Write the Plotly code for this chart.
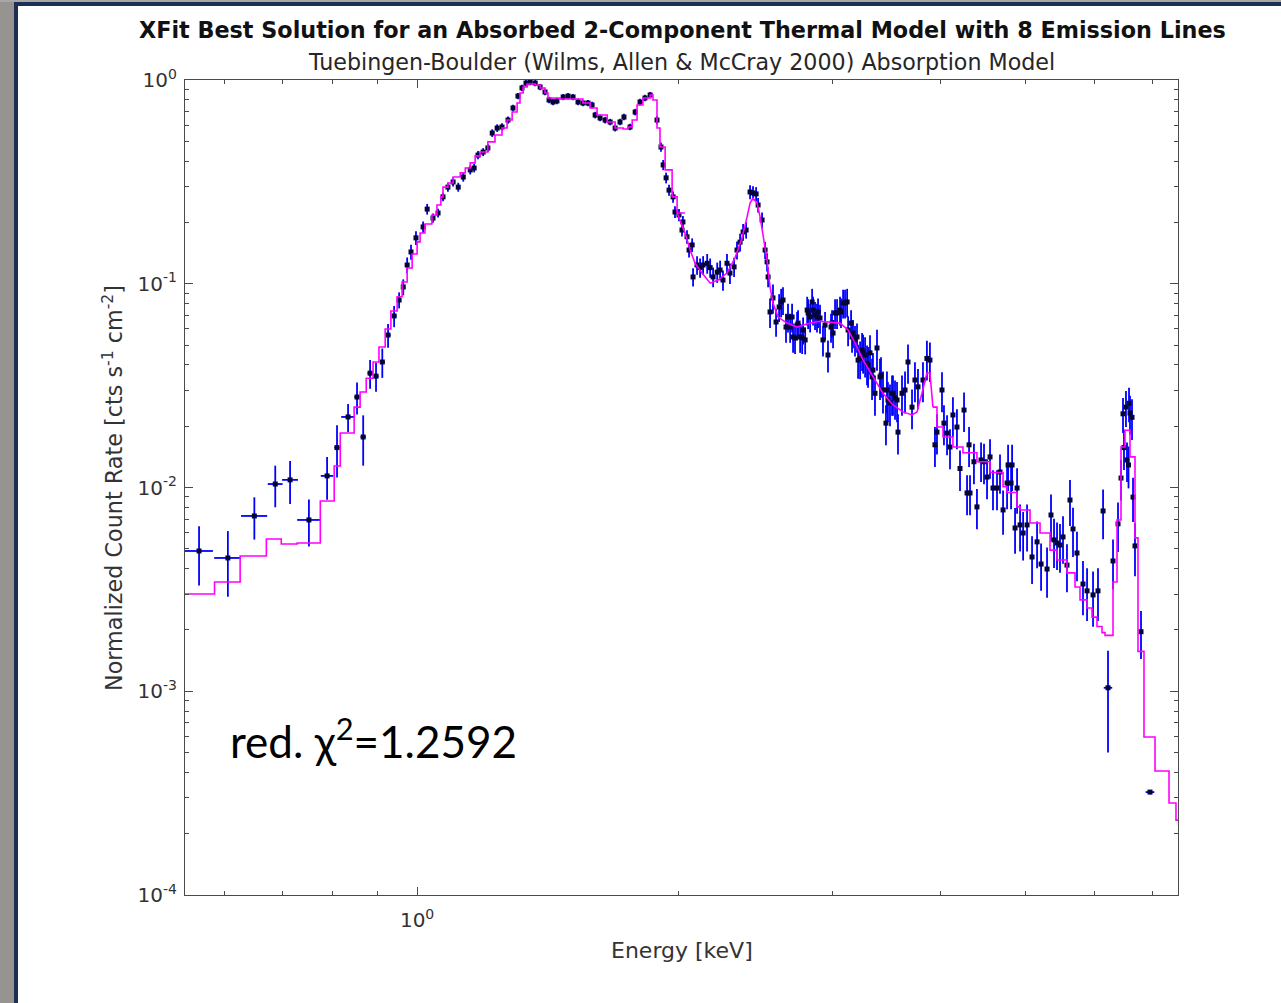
import plotly.graph_objects as go

# ---------------- data ----------------
# sparse, binned points with energy error bars
binned_energy = [0.5615, 0.606, 0.650, 0.687, 0.7145, 0.751, 0.788, 0.809, 0.833, 0.853, 0.867,
                 0.883, 0.897, 0.912, 0.926, 0.941, 6.226, 6.794, 6.958]
binned_rate = [0.00488, 0.00451, 0.00725, 0.0104, 0.0109, 0.00693, 0.0114, 0.0157, 0.0222, 0.0278, 0.0177,
               0.0364, 0.0352, 0.0413, 0.0560, 0.0695, 0.00104, 0.00196, 0.000320]
binned_rate_err = [0.00158, 0.0016, 0.0017, 0.0024, 0.0026, 0.0018, 0.0027, 0.0045, 0.0035, 0.005, 0.0049,
                   0.0059, 0.0057, 0.0068, 0.0075, 0.0083, 0.00054, 0.00052, 0.000008]
binned_energy_err = [0.021, 0.0215, 0.0225, 0.0135, 0.015, 0.023, 0.013, 0.006, 0.015, 0.006, 0.006,
                     0.006, 0.006, 0.006, 0.006, 0.006, 0.07, 0.03, 0.08]

# soft band 0.95 - 2.55 keV
soft_energy = [0.9535, 0.964, 0.974, 0.984, 0.997, 1.016, 1.027, 1.043, 1.057, 1.071,
               1.085, 1.100, 1.115, 1.130, 1.151, 1.163, 1.175, 1.191, 1.206, 1.220,
               1.236, 1.252, 1.272, 1.289, 1.306, 1.320, 1.334, 1.349, 1.367, 1.385,
               1.403, 1.418, 1.433, 1.448, 1.472, 1.491, 1.511, 1.531, 1.551, 1.572,
               1.589, 1.602, 1.623, 1.645, 1.667, 1.689, 1.711, 1.729, 1.757, 1.781,
               1.804, 1.828, 1.853, 1.887, 1.907, 1.918, 1.933, 1.948, 1.969, 1.979,
               2.000, 2.016, 2.021, 2.043, 2.054, 2.071, 2.076, 2.098, 2.115, 2.132,
               2.155, 2.172, 2.189, 2.213, 2.230, 2.247, 2.271, 2.289, 2.314, 2.332,
               2.351, 2.370, 2.389, 2.414, 2.433, 2.453, 2.466, 2.492, 2.512, 2.525, 2.532]
soft_rate = [0.0832, 0.0964, 0.1236, 0.1432, 0.168, 0.190, 0.2325, 0.210, 0.2225, 0.267,
             0.298, 0.316, 0.298, 0.334, 0.362, 0.370, 0.428, 0.443, 0.464, 0.549,
             0.581, 0.588, 0.636, 0.729, 0.834, 0.914, 0.966, 0.977, 0.966, 0.924,
             0.873, 0.798, 0.780, 0.789, 0.825, 0.834, 0.825, 0.780, 0.771, 0.771,
             0.754, 0.673, 0.651, 0.636, 0.622, 0.581, 0.622, 0.658, 0.588, 0.696,
             0.780, 0.816, 0.844, 0.636, 0.469, 0.383, 0.331, 0.288, 0.267, 0.225,
             0.2175, 0.1835, 0.201, 0.170, 0.1464, 0.155, 0.108, 0.1236, 0.120, 0.1236,
             0.126, 0.120, 0.108, 0.114, 0.1168, 0.1043, 0.126, 0.1128, 0.121, 0.1464,
             0.160, 0.1795, 0.1835, 0.282, 0.279, 0.276, 0.2435, 0.2055, 0.1464, 0.128, 0.108]
soft_rate_err = [0.0075, 0.0087, 0.011, 0.012, 0.013, 0.012, 0.014, 0.011, 0.011, 0.013,
                 0.015, 0.016, 0.015, 0.017, 0.018, 0.018, 0.02, 0.02, 0.021, 0.024,
                 0.025, 0.025, 0.026, 0.028, 0.03, 0.033, 0.035, 0.035, 0.035, 0.033,
                 0.031, 0.029, 0.028, 0.028, 0.029, 0.029, 0.029, 0.028, 0.027, 0.027,
                 0.027, 0.025, 0.024, 0.024, 0.023, 0.022, 0.023, 0.024, 0.022, 0.026,
                 0.028, 0.03, 0.03, 0.03, 0.025, 0.022, 0.02, 0.018, 0.017, 0.015,
                 0.015, 0.013, 0.014, 0.013, 0.012, 0.012, 0.011, 0.013, 0.013, 0.013,
                 0.014, 0.013, 0.012, 0.013, 0.013, 0.012, 0.014, 0.013, 0.013, 0.015,
                 0.016, 0.017, 0.017, 0.022, 0.022, 0.022, 0.02, 0.018, 0.014, 0.013, 0.012]

# hard band 2.55 - 6.7 keV
hard_energy = [2.545, 2.565, 2.586, 2.607, 2.621, 2.634, 2.655, 2.669, 2.684, 2.698,
               2.705, 2.719, 2.734, 2.741, 2.756, 2.771, 2.778, 2.793, 2.808, 2.815,
               2.830, 2.845, 2.852, 2.867, 2.882, 2.890, 2.905, 2.928, 2.944, 2.967,
               2.991, 2.999, 3.007, 3.023, 3.039, 3.063, 3.071, 3.088, 3.104, 3.121,
               3.129, 3.154, 3.162, 3.170, 3.187, 3.204, 3.213, 3.230, 3.247, 3.256,
               3.273, 3.290, 3.299, 3.316, 3.334, 3.342, 3.360, 3.378, 3.405, 3.414,
               3.432, 3.459, 3.468, 3.477, 3.496, 3.515, 3.524, 3.543, 3.562, 3.571,
               3.609, 3.638, 3.667, 3.706, 3.735, 3.765, 3.815, 3.855, 3.886, 3.938,
               3.959, 4.012, 4.033, 4.066, 4.098, 4.130, 4.174, 4.208, 4.253, 4.287,
               4.310, 4.321, 4.366, 4.401, 4.449, 4.484, 4.520, 4.556, 4.592, 4.641,
               4.678, 4.716, 4.766, 4.779, 4.817, 4.830, 4.868, 4.894, 4.933, 4.973,
               5.025, 5.092, 5.160, 5.215, 5.298, 5.354, 5.397, 5.440, 5.483, 5.527,
               5.585, 5.630, 5.675, 5.735, 5.827, 5.890, 5.984, 6.063, 6.145, 6.309,
               6.393, 6.444, 6.478, 6.495, 6.529, 6.547, 6.573, 6.582, 6.599, 6.634,
               6.652, 6.687]
hard_rate = [0.0727, 0.0852, 0.0649, 0.0769, 0.0814, 0.0832, 0.0613, 0.0687, 0.0613, 0.0687,
             0.0548, 0.0542, 0.0627, 0.0641, 0.0548, 0.0542, 0.0593, 0.0530, 0.0743, 0.0719,
             0.0687, 0.0814, 0.0743, 0.0703, 0.0687, 0.0727, 0.0679, 0.0530, 0.0627, 0.0447,
             0.0613, 0.0641, 0.0573, 0.0719, 0.0719, 0.0743, 0.0727, 0.0805, 0.0805, 0.0814,
             0.0593, 0.0641, 0.0548, 0.0573, 0.0530, 0.0548, 0.0422, 0.0430, 0.0473, 0.0462,
             0.0447, 0.0408, 0.0399, 0.0458, 0.0349, 0.0377, 0.0290, 0.0484, 0.0349, 0.0356,
             0.0301, 0.0207, 0.0301, 0.0269, 0.0260, 0.0290, 0.0290, 0.0275, 0.0269, 0.0187,
             0.0290, 0.0301, 0.0413, 0.0248, 0.0337, 0.0312, 0.0337, 0.0430, 0.0422, 0.0162,
             0.0187, 0.0301, 0.0207, 0.0185, 0.0158, 0.0227, 0.0198, 0.0124, 0.0240, 0.00940,
             0.0162, 0.00940, 0.01338, 0.00803, 0.01365, 0.01338, 0.01125, 0.01413, 0.00994, 0.00994,
             0.01192, 0.00776, 0.01052, 0.0129, 0.01052, 0.0129, 0.00633, 0.00994, 0.00655, 0.00598,
             0.00655, 0.00456, 0.00541, 0.00421, 0.00398, 0.00733, 0.00553, 0.00534, 0.00522, 0.00572,
             0.00416, 0.00868, 0.00626, 0.00477, 0.00336, 0.00311, 0.00297, 0.00311, 0.00767, 0.00436,
             0.00663, 0.01113, 0.0230, 0.0157, 0.0248, 0.01365, 0.0129, 0.0259, 0.0232, 0.0221,
             0.00897, 0.00517]
hard_rate_err = [0.012, 0.014, 0.010, 0.012, 0.013, 0.013, 0.010, 0.011, 0.010, 0.011,
                 0.009, 0.009, 0.010, 0.010, 0.009, 0.009, 0.009, 0.008, 0.012, 0.012,
                 0.011, 0.013, 0.012, 0.011, 0.011, 0.012, 0.011, 0.009, 0.010, 0.008,
                 0.010, 0.010, 0.009, 0.012, 0.012, 0.012, 0.012, 0.013, 0.013, 0.013,
                 0.010, 0.010, 0.009, 0.009, 0.009, 0.009, 0.008, 0.009, 0.010, 0.010,
                 0.010, 0.009, 0.009, 0.010, 0.008, 0.008, 0.0065, 0.011, 0.008, 0.008,
                 0.007, 0.0046, 0.007, 0.006, 0.006, 0.0065, 0.0065, 0.006, 0.006, 0.0042,
                 0.0065, 0.007, 0.009, 0.0055, 0.0075, 0.007, 0.0075, 0.0095, 0.0093, 0.0036,
                 0.0042, 0.0067, 0.0046, 0.0041, 0.0035, 0.005, 0.0044, 0.0028, 0.0053, 0.0021,
                 0.0036, 0.0021, 0.003, 0.0018, 0.003, 0.003, 0.0025, 0.0031, 0.0022, 0.0022,
                 0.0026, 0.0019, 0.0027, 0.0033, 0.0027, 0.0033, 0.0016, 0.0025, 0.0017, 0.0016,
                 0.0017, 0.0012, 0.0014, 0.0011, 0.0011, 0.0019, 0.0015, 0.0014, 0.0014, 0.0015,
                 0.0011, 0.0022, 0.0017, 0.0013, 0.0010, 0.0009, 0.0009, 0.0009, 0.0021, 0.0012,
                 0.0018, 0.0025, 0.0045, 0.0035, 0.005, 0.003, 0.003, 0.005, 0.005, 0.005,
                 0.0022, 0.0015]

# best-fit model (histogram: value holds from each energy to the next)
model_energy = [0.541, 0.585, 0.626, 0.671, 0.698, 0.728, 0.774, 0.803, 0.816, 0.8465,
                0.860, 0.874, 0.890, 0.904, 0.919, 0.933, 0.9485, 0.961, 0.974, 0.987,
                1.000, 1.008, 1.021, 1.040, 1.054, 1.065, 1.071, 1.085, 1.100, 1.121,
                1.136, 1.151, 1.166, 1.181, 1.206, 1.229, 1.252, 1.269, 1.286, 1.303,
                1.313, 1.324, 1.338, 1.367, 1.385, 1.403, 1.414, 1.460, 1.511, 1.551,
                1.581, 1.610, 1.654, 1.689, 1.725, 1.748, 1.767, 1.790, 1.818, 1.853,
                1.867, 1.887, 1.902, 1.928, 1.964, 1.990, 2.032, 2.060, 2.087, 2.126,
                2.172, 2.218, 2.271, 2.320, 2.363, 2.395, 2.414, 2.433, 2.459, 2.479,
                2.499, 2.525, 2.545, 2.565, 2.600, 2.662, 2.734, 2.830, 2.905, 3.000,
                3.063, 3.129, 3.187, 3.256, 3.342, 3.432, 3.524, 3.619, 3.706, 3.755,
                3.805, 3.855, 3.886, 3.917, 3.959, 4.023, 4.130, 4.241, 4.401, 4.556,
                4.716, 4.766, 4.894, 4.933, 5.065, 5.201, 5.340, 5.440, 5.585, 5.705,
                5.781, 5.890, 5.968, 6.047, 6.128, 6.177, 6.309, 6.376, 6.444, 6.512,
                6.599, 6.687, 6.740, 6.848, 7.051, 7.317, 7.453, 7.63]
model_rate = [0.00300, 0.00344, 0.00461, 0.00559, 0.00528, 0.00534, 0.00859, 0.01275, 0.0185, 0.0248,
              0.0294, 0.0344, 0.0413, 0.0489, 0.0600, 0.0735, 0.0864, 0.1020, 0.1195, 0.1400,
              0.1605, 0.1775, 0.1965, 0.2175, 0.2435, 0.267, 0.298, 0.312, 0.334, 0.350,
              0.370, 0.392, 0.424, 0.443, 0.497, 0.537, 0.581, 0.636, 0.696, 0.771,
              0.863, 0.924, 0.956, 0.945, 0.914, 0.863, 0.816, 0.807, 0.807, 0.771,
              0.729, 0.673, 0.622, 0.581, 0.575, 0.588, 0.636, 0.754, 0.816, 0.844,
              0.798, 0.581, 0.469, 0.362, 0.267, 0.2225, 0.1775, 0.1464, 0.126, 0.1128,
              0.1007, 0.1043, 0.1128, 0.134, 0.1677, 0.2128, 0.249, 0.263, 0.249, 0.2128,
              0.1696, 0.1308, 0.0964, 0.0805, 0.0686, 0.0641, 0.0613, 0.0641, 0.0655, 0.0649,
              0.0641, 0.0593, 0.0512, 0.0422, 0.0349, 0.0290, 0.0254, 0.0235, 0.0227, 0.0235,
              0.0290, 0.0365, 0.0365, 0.0248, 0.0198, 0.0177, 0.0158, 0.0148, 0.01338, 0.01184,
              0.01009, 0.00945, 0.00803, 0.00776, 0.00670, 0.00598, 0.00493, 0.00441, 0.00381, 0.00325,
              0.00281, 0.00256, 0.00231, 0.00208, 0.00194, 0.00188, 0.00344, 0.00693, 0.0158, 0.0191,
              0.01413, 0.00566, 0.00157, 0.000596, 0.000406, 0.000283, 0.000233, 0.000233]

assert len(soft_energy) == len(soft_rate) == len(soft_rate_err)
assert len(hard_energy) == len(hard_rate) == len(hard_rate_err)
assert len(binned_energy) == len(binned_rate) == len(binned_rate_err) == len(binned_energy_err)
assert len(model_energy) == len(model_rate)

x_major = [1]
x_major_text = ["10<sup>0</sup>"]
x_minor = [0.6, 0.7, 0.8, 0.9, 2, 3, 4, 5, 6, 7]
y_major = [1e-4, 1e-3, 1e-2, 1e-1, 1]
y_major_text = ["10<sup>-4</sup>", "10<sup>-3</sup>", "10<sup>-2</sup>", "10<sup>-1</sup>", "10<sup>0</sup>"]
y_minor = [m * 10.0 ** e for e in range(-4, 0) for m in range(2, 10)]

x_range = [0.541, 7.493]
y_range = [1e-4, 1]

# ---------------- figure ----------------
import math

BLUE = "#0000ff"
MARK = "#050535"
MAGENTA = "#ff00ff"
AX = "#4a4a4a"
FONT = "DejaVu Sans"

fig = go.Figure()


def add_points(xs, ys, yerr, xerr=None):
    fig.add_trace(go.Scatter(
        x=xs, y=ys, mode="markers",
        marker=dict(symbol="square", size=5, color=MARK, line=dict(width=0)),
        error_y=dict(type="data", array=yerr, color=BLUE, thickness=1.8, width=0),
        error_x=(dict(type="data", array=xerr, color=BLUE, thickness=1.8, width=0)
                 if xerr is not None else None),
        showlegend=False, hoverinfo="x+y"))


add_points(soft_energy, soft_rate, soft_rate_err)
add_points(hard_energy, hard_rate, hard_rate_err)
add_points(binned_energy, binned_rate, binned_rate_err, binned_energy_err)

# model: stepped where the histogram bins are wide, smooth where they are fine
segments = [(0.0, 2.0, "hv"), (1.99, 3.92, "linear"), (3.9, 99, "hv")]
for lo, hi, shape in segments:
    idx = [i for i, e in enumerate(model_energy) if lo <= e <= hi]
    xs = [model_energy[i] for i in idx]
    ys = [model_rate[i] for i in idx]
    if shape == "hv" and hi < 99:
        nxt = idx[-1] + 1
        xs.append(model_energy[nxt])
        ys.append(model_rate[idx[-1]])
    fig.add_trace(go.Scatter(x=xs, y=ys, mode="lines",
                             line=dict(color=MAGENTA, width=1.6, shape=shape),
                             showlegend=False, hoverinfo="skip"))

L, R, T, B = 185, 103, 80, 108
W, H = 1281, 1003
PW, PH = W - L - R, H - T - B


def px(xp):
    return (xp - L) / PW


def py(yp):
    return (H - B - yp) / PH


axis_common = dict(
    type="log", showline=True, linecolor=AX, linewidth=1.3, mirror="allticks",
    ticks="inside", ticklen=8, tickwidth=1, tickcolor=AX,
    showgrid=False, zeroline=False,
    tickfont=dict(family=FONT, size=20, color="#333333"),
)

fig.update_layout(
    width=W, height=H,
    margin=dict(l=L, r=R, t=T, b=B, pad=0),
    paper_bgcolor="white", plot_bgcolor="white",
    xaxis=dict(axis_common, range=[math.log10(x_range[0]), math.log10(x_range[1])],
               tickvals=x_major, ticktext=x_major_text, ticklabelstandoff=7,
               minor=dict(tickvals=x_minor, ticks="inside", ticklen=4, tickcolor=AX, tickwidth=1)),
    yaxis=dict(axis_common, range=[math.log10(y_range[0]), math.log10(y_range[1])],
               tickvals=y_major, ticktext=y_major_text, ticklabelstandoff=3,
               minor=dict(tickvals=y_minor, ticks="inside", ticklen=4, tickcolor=AX, tickwidth=1)),
    showlegend=False,
)

ann = [
    dict(text="<b>XFit Best Solution for an Absorbed 2-Component Thermal Model with 8 Emission Lines</b>",
         x=px(682), y=py(30), font=dict(family=FONT, size=22.3, color="#111111")),
    dict(text="Tuebingen-Boulder (Wilms, Allen &amp; McCray 2000) Absorption Model",
         x=px(681), y=py(62), font=dict(family=FONT, size=22.2, color="#262626")),
    dict(text="Energy [keV]", x=px(682), y=py(950), font=dict(family=FONT, size=22, color="#333333")),
    dict(text="Normalized Count Rate [cts s<sup>-1</sup> cm<sup>-2</sup>]", x=px(113), y=py(488),
         textangle=-90, font=dict(family=FONT, size=22.3, color="#333333")),
    dict(text="red. χ<sup>2</sup>=1.2592", x=px(228), y=py(738), xanchor="left",
         font=dict(family="Lato", size=44, color="#000000")),
]
for a in ann:
    a.setdefault("xanchor", "center")
    a.update(xref="paper", yref="paper", yanchor="middle", showarrow=False)
fig.update_layout(annotations=ann)

# slide frame (grey strip and navy rule at left / top)
shapes = [
    dict(type="rect", x0=px(0), x1=px(14), y0=py(H), y1=py(0), fillcolor="#969391", line=dict(width=0)),
    dict(type="rect", x0=px(0), x1=px(W), y0=py(2), y1=py(0), fillcolor="#a9a7a5", line=dict(width=0)),
    dict(type="rect", x0=px(14), x1=px(18), y0=py(H), y1=py(2), fillcolor="#1d2f55", line=dict(width=0)),
    dict(type="rect", x0=px(14), x1=px(W), y0=py(6), y1=py(2), fillcolor="#1d2f55", line=dict(width=0)),
]
for s in shapes:
    s.update(xref="paper", yref="paper", layer="above")
fig.update_layout(shapes=shapes)

fig.write_html("out.html")
